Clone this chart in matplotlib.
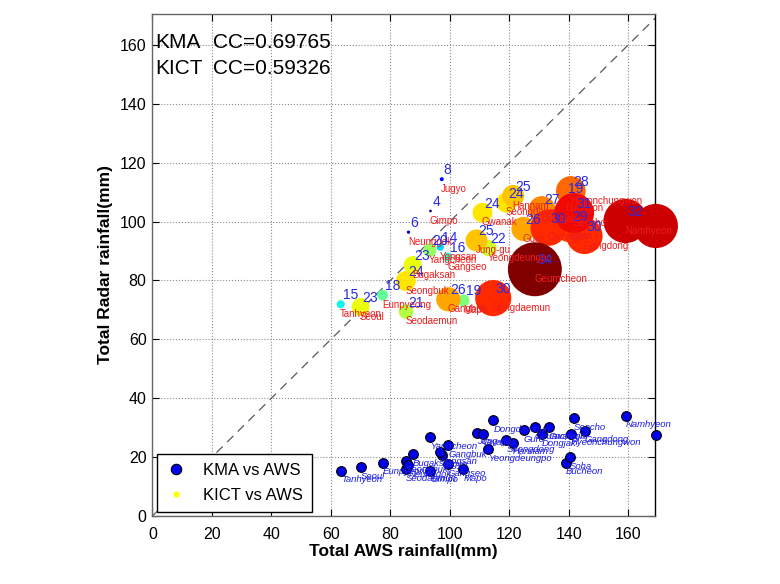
import numpy as np
import matplotlib
matplotlib.use('Agg')
import matplotlib.pyplot as plt
from matplotlib.lines import Line2D

plt.rcParams['font.family'] = ['Liberation Sans', 'DejaVu Sans']

# station data (AWS total is shared by both comparisons)
stations = ['Tanhyeon', 'Seoul', 'Eunpyeong', 'Seodaemun', 'Seongbuk', 'Bugaksan',
            'Neunggok', 'Yangcheon', 'Gimpo', 'Jugyo', 'Yongsan', 'Gangseo',
            'Gangbuk', 'Mapo', 'Jung-gu', 'Gwanak', 'Yeongdeungpo', 'Dongdaemun',
            'Hannam', 'Seongdong', 'Guro', 'Geumcheon', 'Dongjak', 'Gwangjin',
            'Bucheon', 'Soha', 'Hyeonchungwon', 'Seocho', 'Gangdong', 'Namhyeon',
            'Gangnam']
aws_total = [63.3, 70.0, 77.4, 85.3, 85.2, 87.5,
             86.1, 93.3, 93.5, 97.3, 96.8, 99.3,
             99.5, 104.6, 109.0, 111.0, 113.0, 114.6,
             121.3, 119.0, 124.8, 128.6, 131.0, 133.2,
             139.0, 140.4, 140.7, 141.8, 145.3, 159.1,
             169.3]
kma_total = [15.3, 16.6, 18.1, 15.9, 18.7, 20.9,
             17.2, 26.8, 15.3, 20.7, 21.6, 17.5,
             24.1, 15.9, 28.3, 27.9, 22.6, 32.5,
             24.9, 25.7, 29.1, 30.2, 27.7, 30.2,
             18.1, 20.0, 27.9, 33.2, 28.9, 34.0,
             27.5]
kict_total = [71.9, 71.0, 75.0, 69.4, 79.8, 85.2,
              96.4, 90.3, 103.6, 114.4, 91.3, 88.0,
              73.6, 73.2, 93.6, 103.0, 91.0, 74.0,
              108.7, 106.4, 97.5, 83.8, 104.1, 97.9,
              108.0, 98.5, 110.4, 102.9, 95.1, 100.2,
              98.5]
kict_peak = [15, 23, 18, 21, 24, 23,
             6, 20, 4, 8, 14, 16,
             26, 19, 25, 24, 22, 30,
             25, 24, 26, 34, 27, 30,
             19, 29, 28, 31, 30, 32,
             32]

cc_kma = 0.69765
cc_kict = 0.59326

fig = plt.figure(figsize=(7.8, 5.84), dpi=100)
ax = fig.add_axes([0.1955, 0.1165, 0.6442, 0.8595])

x = np.array(aws_total)
y_kma = np.array(kma_total)
y_kict = np.array(kict_total)
peak = np.array(kict_peak)

# 1:1 line
ax.plot([0, 175], [0, 175], '--', color='0.35', lw=0.9, dashes=(7, 5), zorder=2)

# KICT bubbles: colour and size follow the peak value
r_px = 0.9 * np.exp(0.1 * peak)
sizes = (2 * r_px * 72 / fig.dpi) ** 2
order = np.argsort(peak, kind='stable')
ax.scatter(x[order], y_kict[order], s=sizes[order], c=peak[order], cmap='jet',
           vmin=4, vmax=34, edgecolors='none', zorder=3, clip_on=False)

# KMA points
ax.plot(x, y_kma, 'o', ms=7, mfc='#0000ee', mec='black', mew=0.8,
        zorder=4, clip_on=False)

for i, name in enumerate(stations):
    ax.annotate(str(kict_peak[i]), (x[i], y_kict[i]), xytext=(1.5, 6.5),
                textcoords='offset points', fontsize=10, color='#2a2ae0',
                ha='left', va='center', zorder=6)
    ax.annotate(name, (x[i], y_kict[i]), xytext=(-0.5, -7),
                textcoords='offset points', fontsize=7, color='#ee1c1c',
                ha='left', va='center', zorder=6)
    ax.annotate(name, (x[i], y_kma[i]), xytext=(0, -6.5),
                textcoords='offset points', fontsize=6.8, color='#1a1ae6',
                style='italic', ha='left', va='center', zorder=6)

ax.text(0.005, 0.943, 'KMA', transform=ax.transAxes, fontsize=15, va='center')
ax.text(0.12, 0.943, 'CC=%.5f' % cc_kma, transform=ax.transAxes, fontsize=15, va='center')
ax.text(0.005, 0.892, 'KICT', transform=ax.transAxes, fontsize=15, va='center')
ax.text(0.12, 0.892, 'CC=%.5f' % cc_kict, transform=ax.transAxes, fontsize=15, va='center')

ax.set_xlim(0, 169)
ax.set_ylim(0, 170.5)
ticks = np.arange(0, 161, 20)
ax.set_xticks(ticks)
ax.set_yticks(ticks)
ax.tick_params(direction='in', length=5, width=0.8, top=True, right=True,
               labelsize=11.5, pad=4.3)
ax.tick_params(axis='x', pad=8)
ax.grid(True, linestyle=':', color='0.55', lw=0.8)
ax.set_axisbelow(True)
for sp in ax.spines.values():
    sp.set_color('0.4')
    sp.set_linewidth(1.0)
ax.spines['right'].set_color('black')

ax.set_xlabel('Total AWS rainfall(mm)', fontsize=12.5, fontweight='bold', labelpad=1.5)
ax.set_ylabel('Total Radar rainfall(mm)', fontsize=12.5, fontweight='bold', labelpad=5)

handles = [Line2D([], [], ls='none', marker='o', ms=7.5, mfc='#0000ee', mec='black', mew=0.8),
           Line2D([], [], ls='none', marker='o', ms=3.5, mfc='yellow', mec='yellow')]
leg = ax.legend(handles, ['KMA vs AWS', 'KICT vs AWS'], loc='lower left',
                bbox_to_anchor=(0.009, 0.007), borderaxespad=0, fontsize=12,
                fancybox=False, framealpha=1, edgecolor='black',
                handlelength=1.2, handletextpad=1.0, borderpad=0.55,
                labelspacing=0.6)
leg.get_frame().set_linewidth(1.0)
leg.set_zorder(7)

fig.savefig('out.png', dpi=100)
